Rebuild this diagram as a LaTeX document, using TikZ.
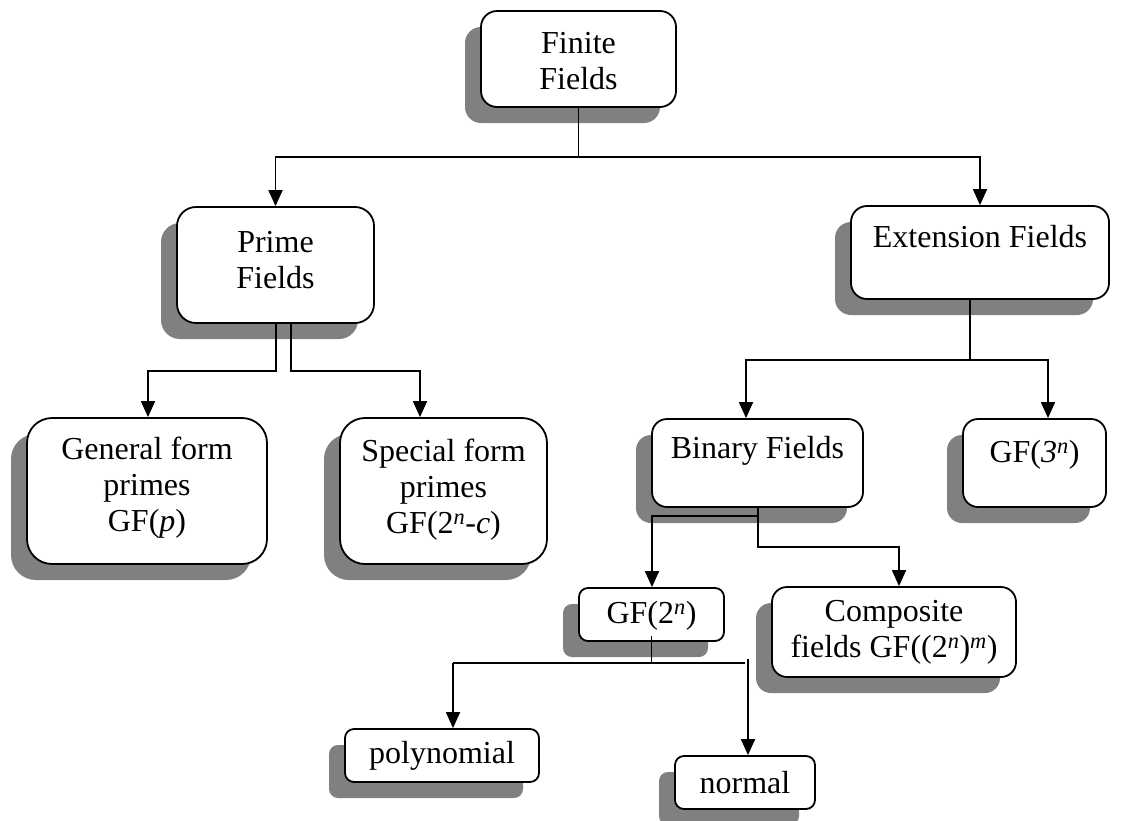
\documentclass[tikz,border=0pt]{standalone}
\usepackage{fontspec}
\setmainfont{Liberation Serif}
\usetikzlibrary{shadows,arrows.meta,calc}
\definecolor{shade}{HTML}{808080}
\tikzset{
  box/.style={draw=black, line width=1.8pt, fill=white, inner sep=0pt,
    general shadow={fill=shade, shadow xshift=-16pt, shadow yshift=-16pt}},
  lbl/.style={align=center, inner sep=0pt, font=\fontsize{32}{36}\selectfont},
  link/.style={line width=1.8pt},
  arr/.style={line width=1.8pt, -{Triangle[length=16pt,width=14pt]}}
}
% \rbox{name}{left}{top}{right}{bottom}{corner radius}
\newcommand{\rbox}[6]{%
  \node[box, rounded corners=#6pt, minimum width={(#4-#2)*1pt}, minimum height={(#5-#3)*1pt}]
    (#1) at ({(#2+#4)/2},{-(#3+#5)/2}) {};}
\begin{document}
\begin{tikzpicture}[x=1pt,y=1pt]
\useasboundingbox (0,0) rectangle (1132,-820);

% boxes
\rbox{fin}{481}{11}{676}{107}{16}
\rbox{prime}{177}{207}{374}{323}{19}
\rbox{ext}{851}{206}{1109}{299}{16}
\rbox{gen}{27}{418}{267}{564}{25}
\rbox{spec}{340}{418}{547}{564}{25}
\rbox{bin}{652}{419}{863}{507}{15}
\rbox{gfthree}{963}{419}{1106}{507}{15}
\rbox{gftwo}{579}{588}{724}{641}{9}
\rbox{comp}{772}{587}{1016}{677}{15}
\rbox{poly}{345}{729}{539}{782}{9}
\rbox{norm}{675}{756}{815}{809}{9}

% labels
\node[lbl] (tfin) at (578.5,-61) {Finite\\Fields};
\node[lbl] (tprime) at (275.5,-260) {Prime\\Fields};
\node[lbl] (text) at (980,-237) {Extension Fields};
\node[lbl] (tgen) at (147,-488) {General form\\primes\\GF(\textit{p})};
\node[lbl] (tspec) at (443.5,-490) {Special form\\primes\\GF(2\textsuperscript{\textit{n}}-\textit{c})};
\node[lbl] (tbin) at (757.5,-451) {Binary Fields};
\node[lbl] (tgfthree) at (1034.5,-455) {GF(\textit{3}\textsuperscript{\textit{n}})};
\node[lbl] (tgftwo) at (651.5,-616) {GF(2\textsuperscript{\textit{n}})};
\node[lbl] (tcomp) at (894,-632) {Composite\\fields GF((2\textsuperscript{\textit{n}})\textsuperscript{\textit{m}})};
\node[lbl] (tpoly) at (442,-756) {polynomial};
\node[lbl] (tnorm) at (745,-783) {normal};

% connectors
\coordinate (finj) at (fin.south |- 0,-157);
\draw[link] (fin.south) -- (finj);
\draw[arr] (finj) -| (prime.north);
\draw[arr] (finj) -| (ext.north -| 980,0);

\draw[arr] (prime.south -| 276,0) |- (148,-371) -- (gen.north -| 148,0);
\draw[arr] (prime.south -| 291,0) |- (420,-371) -- (spec.north -| 420,0);

\coordinate (extj) at (ext.south -| 970,0);
\draw[link] (extj) -- (970,-360);
\draw[arr] (970,-360) -| (bin.north -| 746,0);
\draw[arr] (970,-360) -| (gfthree.north -| 1048,0);

\coordinate (binj) at (bin.south -| 758,0);
\draw[arr] (binj) |- (652,-516) -- (gftwo.north -| 652,0);
\draw[arr] (binj) |- (899,-547) -- (comp.north -| 899,0);

\draw[link] ([yshift=6pt]gftwo.south) -- (651.5,-663);
\draw[link] (453,-663) -- (745,-663);
\draw[arr] (453,-663) -- (poly.north -| 453,0);
\draw[arr] (748,-659) -- (norm.north -| 748,0);
\end{tikzpicture}
\end{document}
